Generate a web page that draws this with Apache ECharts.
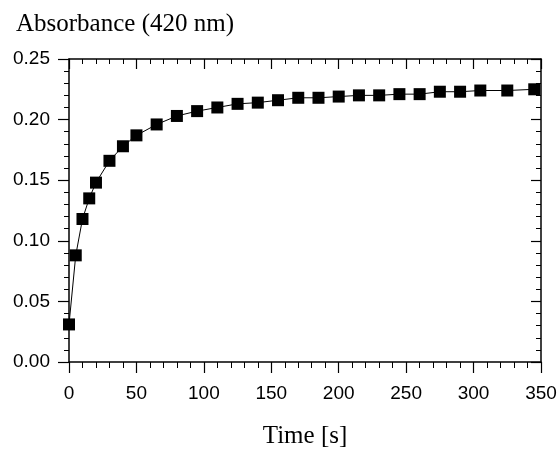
<!DOCTYPE html>
<html>
<head>
<meta charset="utf-8">
<script src="https://cdn.jsdelivr.net/npm/echarts@6/dist/echarts.min.js"></script>
<style>
  html, body { margin: 0; padding: 0; background: #fff; }
  #chart { width: 558px; height: 450px; }
</style>
</head>
<body>
<div id="chart"></div>
<script>
// 数据
const timeS = [0, 5, 10, 15, 20, 30, 40, 50, 65, 80, 95, 110, 125, 140, 155, 170, 185, 200, 215, 230, 245, 260, 275, 290, 305, 325, 345];
const absorbance = [0.031, 0.088, 0.118, 0.135, 0.148, 0.166, 0.178, 0.187, 0.196, 0.203, 0.207, 0.210, 0.213, 0.214, 0.216, 0.218, 0.218, 0.219, 0.220, 0.220, 0.221, 0.221, 0.223, 0.223, 0.224, 0.224, 0.225];
const yTitle = 'Absorbance (420 nm)';
const xTitle = 'Time [s]';

const sansFont = '"Liberation Sans", Arial, sans-serif';
const serifFont = '"Liberation Serif", "Times New Roman", serif';

let myChart = echarts.init(document.getElementById('chart'));

// 上/右边框的内刻度
function innerAxis(pos, max, interval) {
    return {
        type: 'value', min: 0, max: max, interval: interval, position: pos,
        axisLine: {show: true, onZero: false, lineStyle: {color: '#000', width: 1.5}},
        axisTick: {show: true, inside: true, length: 10, lineStyle: {color: '#000', width: 1.2}},
        minorTick: {show: true, splitNumber: 5, length: 5, lineStyle: {color: '#000', width: 1}},
        axisLabel: {show: false},
        splitLine: {show: false}
    };
}

const points = timeS.map((t, i) => [t, absorbance[i]]);

let option = {
    animation: false,
    title: {
        text: yTitle,
        left: 11,
        top: 7,
        textStyle: {fontFamily: serifFont, fontSize: 25, fontWeight: 'normal', color: '#000'}
    },
    grid: {left: 69, right: 17, top: 59, bottom: 88, outerBoundsMode: 'none'},
    xAxis: [
        {
            type: 'value',
            min: 0, max: 350, interval: 50,
            position: 'bottom',
            name: xTitle,
            nameLocation: 'middle',
            nameGap: 62,
            nameTextStyle: {fontFamily: serifFont, fontSize: 25, color: '#000'},
            axisLine: {show: true, onZero: false, lineStyle: {color: '#000', width: 1.5}},
            axisTick: {show: true, length: 11, lineStyle: {color: '#000', width: 1.2}},
            minorTick: {show: true, splitNumber: 5, length: 6, lineStyle: {color: '#000', width: 1}},
            axisLabel: {margin: 22, fontFamily: sansFont, fontSize: 19, color: '#000'},
            splitLine: {show: false}
        },
        innerAxis('top', 350, 50)
    ],
    yAxis: [
        {
            type: 'value',
            min: 0, max: 0.25, interval: 0.05,
            position: 'left',
            axisLine: {show: true, onZero: false, lineStyle: {color: '#000', width: 1.5}},
            axisTick: {show: true, length: 11, lineStyle: {color: '#000', width: 1.2}},
            minorTick: {show: true, splitNumber: 5, length: 5, lineStyle: {color: '#000', width: 1}},
            axisLabel: {
                margin: 19, fontFamily: sansFont, fontSize: 19, color: '#000',
                formatter: v => v.toFixed(2)
            },
            splitLine: {show: false}
        },
        innerAxis('right', 0.25, 0.05)
    ],
    series: [
        {
            type: 'line',
            data: points,
            symbol: 'rect',
            symbolSize: 12,
            showAllSymbol: true,
            clip: false,
            itemStyle: {color: '#000'},
            lineStyle: {color: '#000', width: 1}
        },
        {
            // 挂在上/右轴上，让边框轴显示出来
            type: 'line',
            xAxisIndex: 1,
            yAxisIndex: 1,
            data: points,
            symbol: 'none',
            silent: true,
            lineStyle: {opacity: 0}
        }
    ]
};
myChart.setOption(option);
</script>
</body>
</html>
